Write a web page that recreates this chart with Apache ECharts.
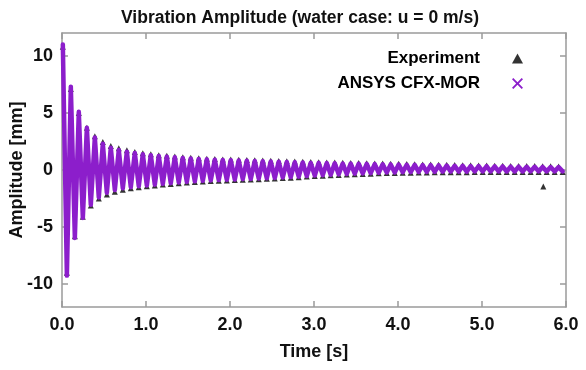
<!DOCTYPE html>
<html><head><meta charset="utf-8">
<script src="https://cdn.jsdelivr.net/npm/echarts@6/dist/echarts.min.js"></script>
<style>html,body{margin:0;padding:0;background:#fff}#c{width:586px;height:370px}</style>
</head><body><div id="c"></div>
<script>
// time of each extremum [s] (peaks and troughs alternate)
const times = [
0.010,0.058,0.105,0.153,0.200,0.248,0.296,0.343,0.391,0.438,
0.486,0.534,0.581,0.629,0.676,0.724,0.772,0.819,0.867,0.914,
0.962,1.010,1.057,1.105,1.152,1.200,1.248,1.295,1.343,1.390,
1.438,1.486,1.533,1.581,1.628,1.676,1.724,1.771,1.819,1.866,
1.914,1.962,2.009,2.057,2.104,2.152,2.200,2.247,2.295,2.342,
2.390,2.438,2.485,2.533,2.580,2.628,2.676,2.723,2.771,2.818,
2.866,2.914,2.961,3.009,3.056,3.104,3.152,3.199,3.247,3.294,
3.342,3.390,3.437,3.485,3.532,3.580,3.628,3.675,3.723,3.770,
3.818,3.866,3.913,3.961,4.008,4.056,4.104,4.151,4.199,4.246,
4.294,4.342,4.389,4.437,4.484,4.532,4.580,4.627,4.675,4.722,
4.770,4.818,4.865,4.913,4.960,5.008,5.056,5.103,5.151,5.198,
5.246,5.294,5.341,5.389,5.436,5.484,5.532,5.579,5.627,5.674,
5.722,5.770,5.817,5.865,5.912,5.960
];
// ANSYS CFX-MOR amplitude [mm]
const simValues = [
11.0,-9.25, 7.3,-5.95, 5.1,-4.2, 3.7,-3.05, 2.85,-2.4,
2.3,-2.0, 1.95,-1.75, 1.75,-1.6, 1.6,-1.5, 1.48,-1.42,
1.38,-1.36, 1.3,-1.28, 1.23,-1.21, 1.17,-1.15, 1.11,-1.09,
1.06,-1.04, 1.01,-0.99, 0.97,-0.95, 0.93,-0.91, 0.9,-0.88,
0.87,-0.85, 0.85,-0.83, 0.83,-0.8, 0.81,-0.78, 0.79,-0.75,
0.77,-0.72, 0.75,-0.69, 0.73,-0.66, 0.7,-0.62, 0.68,-0.58,
0.66,-0.53, 0.63,-0.48, 0.62,-0.45, 0.6,-0.42, 0.59,-0.38,
0.57,-0.35, 0.56,-0.32, 0.55,-0.29, 0.53,-0.27, 0.52,-0.24,
0.5,-0.22, 0.49,-0.21, 0.48,-0.19, 0.46,-0.18, 0.45,-0.17,
0.43,-0.16, 0.42,-0.15, 0.4,-0.15, 0.39,-0.14, 0.37,-0.14,
0.36,-0.14, 0.35,-0.13, 0.34,-0.13, 0.33,-0.13, 0.32,-0.13,
0.31,-0.13, 0.3,-0.13, 0.29,-0.13, 0.28,-0.12, 0.28,-0.12,
0.27,-0.12, 0.26,-0.12, 0.25,-0.12
];
// Experiment amplitude [mm]
const expValues = [
10.8,-9.0, 7.1,-5.8, 5.0,-4.1, 3.7,-3.1, 2.95,-2.5,
2.45,-2.15, 2.1,-1.9, 1.9,-1.72, 1.72,-1.6, 1.58,-1.5,
1.47,-1.43, 1.38,-1.35, 1.3,-1.28, 1.24,-1.22, 1.18,-1.16,
1.12,-1.1, 1.07,-1.05, 1.03,-1.01, 0.99,-0.97, 0.96,-0.94,
0.93,-0.91, 0.91,-0.88, 0.89,-0.85, 0.87,-0.83, 0.85,-0.8,
0.83,-0.77, 0.81,-0.74, 0.79,-0.71, 0.76,-0.67, 0.74,-0.63,
0.72,-0.58, 0.69,-0.53, 0.68,-0.5, 0.66,-0.47, 0.65,-0.43,
0.63,-0.4, 0.62,-0.37, 0.61,-0.34, 0.59,-0.32, 0.58,-0.29,
0.56,-0.27, 0.55,-0.26, 0.54,-0.24, 0.52,-0.23, 0.51,-0.22,
0.49,-0.21, 0.48,-0.2, 0.46,-0.2, 0.45,-0.19, 0.43,-0.19,
0.42,-0.19, 0.41,-0.18, 0.4,-0.18, 0.39,-0.18, 0.38,-0.18,
0.37,-0.18, 0.36,-0.18, 0.35,-0.18, 0.34,-0.17, 0.34,-0.17,
0.33,-0.17, 0.32,-0.17, 0.31,-0.17
];
const expExtraTimes = [5.73];
const expExtraValues = [-1.45];
const yTicks = [-10, -5, 0, 5, 10];

const FONT = 'Liberation Sans, Arial, Helvetica, sans-serif';
const PURPLE = '#8c1ecb';
const AXIS = '#9a9a9a';

const simData = times.map((t, i) => [t, simValues[i]]);
const expData = times.map((t, i) => [t, expValues[i]])
  .concat(expExtraTimes.map((t, i) => [t, expExtraValues[i]]));

const chart = echarts.init(document.getElementById('c'), null, {renderer: 'canvas'});
const xIcon = 'path://M0,1.2L1.2,0L5,3.8L8.8,0L10,1.2L6.2,5L10,8.8L8.8,10L5,6.2L1.2,10L0,8.8L3.8,5Z';
const legendText = {fontFamily: FONT, fontWeight: 'bold', fontSize: 17, color: '#000', padding: [0, 27, 0, 0]};
const axisLine = {show: true, onZero: false, lineStyle: {color: AXIS, width: 1.5}};
const tick = {show: true, inside: true, length: 6, lineStyle: {color: AXIS, width: 1.5}};
const bold18 = {fontFamily: FONT, fontWeight: 'bold', fontSize: 18, color: '#111'};

chart.setOption({
  animation: false,
  backgroundColor: '#fff',
  title: {
    text: 'Vibration Amplitude (water case: u = 0 m/s)',
    left: 295, top: 4, textAlign: 'center',
    textStyle: Object.assign({}, bold18, {fontSize: 17.5})
  },
  legend: [
    {data: [{name: 'Experiment', icon: 'triangle'}], orient: 'vertical', align: 'right',
     right: 58, top: 45, itemWidth: 11, itemHeight: 10, textStyle: legendText},
    {data: [{name: 'ANSYS CFX-MOR', icon: xIcon}], orient: 'vertical', align: 'right',
     right: 58, top: 70, itemWidth: 11, itemHeight: 11, textStyle: legendText}
  ],
  grid: {left: 62, right: 20, top: 33, bottom: 63, containLabel: false, outerBoundsMode: 'none'},
  xAxis: [
    {type: 'value', min: 0, max: 6, interval: 1, position: 'bottom',
     axisLine: axisLine, axisTick: tick, splitLine: {show: false},
     axisLabel: Object.assign({formatter: v => v.toFixed(1), margin: 9}, bold18),
     name: 'Time [s]', nameLocation: 'middle', nameGap: 36, nameMoveOverlap: false, nameTextStyle: bold18},
    {type: 'value', min: 0, max: 6, interval: 1, position: 'top',
     axisLine: axisLine, axisTick: tick, splitLine: {show: false}, axisLabel: {show: false}}
  ],
  yAxis: [
    {type: 'value', min: -12, max: 12, position: 'left',
     axisLine: axisLine, axisTick: Object.assign({customValues: yTicks}, tick), splitLine: {show: false},
     axisLabel: Object.assign({customValues: yTicks, margin: 9}, bold18),
     name: 'Amplitude [mm]', nameLocation: 'middle', nameGap: 36, nameMoveOverlap: false, nameTextStyle: bold18},
    {type: 'value', min: -12, max: 12, position: 'right',
     axisLine: axisLine, axisTick: Object.assign({customValues: yTicks}, tick), splitLine: {show: false},
     axisLabel: {show: false}}
  ],
  series: [
    {name: 'Experiment', type: 'scatter', data: expData, symbol: 'triangle', symbolSize: 6,
     itemStyle: {color: '#000'}, z: 2},
    {name: 'ANSYS CFX-MOR', type: 'line', data: simData, showSymbol: false, symbol: 'none',
     lineStyle: {color: PURPLE, width: 4.5, join: 'round', cap: 'round'}, itemStyle: {color: PURPLE}, z: 3}
  ]
});
</script>
</body></html>
